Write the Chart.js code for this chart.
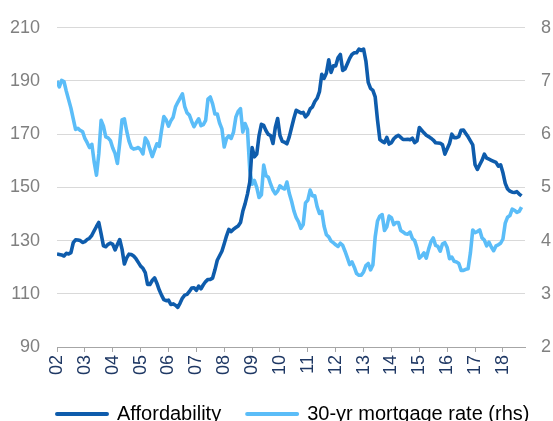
<!DOCTYPE html>
<html>
<head>
<meta charset="utf-8">
<script src="https://cdn.jsdelivr.net/npm/chart.js@4/dist/chart.umd.min.js"></script>
<style>
  html, body { margin: 0; padding: 0; overflow: hidden; background: #fff; }
  #wrap { position: relative; width: 553px; height: 421px; }
</style>
</head>
<body>
<div id="wrap"><canvas id="c"></canvas></div>
<script>
// Year tick labels (one tick every 12 months, starting Jan 2002)
const yearLabels = ['02','03','04','05','06','07','08','09','10','11','12','13','14','15','16','17','18'];

// Monthly Affordability index, Jan 2002 - Sep 2018 (left axis)
const affordability = [
  125.0,124.8,124.6,124.2,125.2,125.0,125.5,129.2,130.3,130.2,130.0,129.3,
  129.6,130.4,130.9,132.0,133.7,135.3,136.8,132.5,128.0,127.7,128.6,129.1,
  128.6,126.5,128.5,130.4,126.8,121.2,123.5,124.9,124.8,124.2,123.2,121.8,
  120.4,119.6,118.0,113.5,113.5,115.0,116.0,114.0,111.5,109.5,107.8,107.4,
  107.6,106.0,106.2,105.7,104.9,106.5,108.4,109.5,109.8,110.9,112.2,112.3,
  111.3,112.9,111.9,113.4,114.6,115.4,115.4,115.9,119.0,122.6,124.3,126.0,
  128.8,131.8,134.2,133.4,134.3,134.9,135.5,136.8,141.0,143.9,147.5,152.0,
  165.0,161.5,162.5,169.5,173.7,173.3,171.3,169.9,169.5,166.5,172.5,175.9,
  169.5,167.3,167.0,166.4,169.0,172.5,176.0,179.0,178.5,178.0,178.2,176.5,
  177.5,179.5,180.3,182.3,183.5,186.0,192.5,191.0,193.0,198.0,193.2,195.7,
  195.7,198.7,200.0,194.0,194.5,196.5,198.5,200.0,200.6,200.6,202.0,201.5,
  202.0,197.5,189.5,187.2,186.5,184.0,175.3,168.0,167.3,166.8,168.8,166.3,
  166.8,168.3,169.1,169.6,168.8,168.0,168.0,168.1,167.9,168.5,166.8,167.5,
  172.5,171.5,170.5,169.6,169.1,168.5,167.8,166.8,166.7,166.6,166.0,162.5,
  164.5,166.5,170.0,168.7,168.7,169.1,171.5,171.6,170.3,169.0,167.5,166.0,
  158.5,156.8,158.5,160.2,162.5,161.0,160.6,160.2,159.8,159.4,158.0,158.5,
  155.5,151.5,149.4,148.6,148.2,148.1,148.4,147.5,146.8
];

// Monthly 30-yr mortgage rate (%), Jan 2002 - Sep 2018 (right axis)
const mortgageRate = [
  7.00,6.89,7.01,6.99,6.81,6.65,6.49,6.29,6.09,6.11,6.07,6.05,
  5.92,5.84,5.75,5.81,5.48,5.23,5.63,6.26,6.15,5.95,5.93,5.88,
  5.74,5.64,5.45,5.83,6.27,6.29,6.06,5.87,5.75,5.72,5.73,5.75,
  5.71,5.63,5.93,5.86,5.72,5.58,5.70,5.82,5.77,6.07,6.33,6.27,
  6.15,6.25,6.32,6.51,6.60,6.68,6.76,6.52,6.40,6.36,6.24,6.14,
  6.22,6.29,6.16,6.18,6.26,6.66,6.70,6.57,6.38,6.38,6.21,6.10,
  5.76,5.92,5.97,5.92,6.04,6.32,6.43,6.48,6.04,6.20,6.09,5.33,
  5.06,5.13,5.00,4.81,4.86,5.42,5.22,5.19,5.06,4.95,4.88,4.93,
  5.03,4.99,4.97,5.10,4.89,4.74,4.56,4.43,4.35,4.23,4.30,4.71,
  4.76,4.95,4.84,4.84,4.64,4.51,4.55,4.27,4.11,4.07,3.99,3.96,
  3.92,3.89,3.95,3.91,3.80,3.68,3.55,3.60,3.50,3.38,3.35,3.35,
  3.41,3.53,3.57,3.45,3.54,4.07,4.37,4.46,4.49,4.19,4.26,4.46,
  4.43,4.30,4.34,4.34,4.19,4.16,4.13,4.12,4.16,4.04,4.00,3.86,
  3.67,3.71,3.77,3.67,3.84,3.98,4.05,3.91,3.89,3.80,3.94,3.96,
  3.87,3.66,3.69,3.61,3.60,3.57,3.44,3.44,3.46,3.47,3.77,4.20,
  4.15,4.17,4.20,4.05,4.01,3.90,3.97,3.88,3.81,3.90,3.92,3.95,
  4.03,4.33,4.44,4.47,4.59,4.57,4.53,4.55,4.63
];

const seriesNames = ['Affordability', '30-yr mortgage rate (rhs)'];

const DARK = '#0E5CAC';
const LIGHT = '#5BBDF8';
const FONT = "'Liberation Sans', Arial, sans-serif";
const LEG_PAD = 26;       // gap between legend items
const LEG_X = 57;         // x of first legend line
const LEG_TEXT_MID = 414; // vertical middle of legend text

// place the legend row where the reference has it
const legendPlacer = {
  id: 'legendPlacer',
  afterLayout(chart) {
    const lg = chart.legend;
    if (!lg) return;
    const dx = LEG_X - (lg.left + LEG_PAD);
    lg.left += dx;
    const fs = lg.options.labels.font.size;
    lg.top = LEG_TEXT_MID - fs / 2 - LEG_PAD;
    lg.bottom = chart.height;
    lg.height = lg.bottom - lg.top;
    lg.right = chart.width + 60;
    lg.width = lg.right - lg.left;
  }
};

const toXY = arr => arr.map((v, i) => ({ x: i, y: v }));

new Chart(document.getElementById('c'), {
  type: 'line',
  data: {
    datasets: [
      {
        label: seriesNames[0],
        data: toXY(affordability),
        yAxisID: 'yL',
        borderColor: DARK,
        backgroundColor: DARK,
        borderWidth: 3.6,
        pointRadius: 0,
        tension: 0,
        borderJoinStyle: 'round'
      },
      {
        label: seriesNames[1],
        data: toXY(mortgageRate),
        yAxisID: 'yR',
        borderColor: LIGHT,
        backgroundColor: LIGHT,
        borderWidth: 3.6,
        pointRadius: 0,
        tension: 0,
        borderJoinStyle: 'round'
      }
    ]
  },
  plugins: [legendPlacer],
  options: {
    responsive: true,
    maintainAspectRatio: false,
    animation: false,
    layout: { padding: { left: 0, right: 0, top: 23, bottom: 0 } },
    plugins: {
      tooltip: { enabled: false },
      legend: {
        position: 'bottom',
        align: 'start',
        maxHeight: 34,
        labels: {
          boxWidth: 50,
          boxHeight: 0,
          padding: LEG_PAD,
          color: '#000000',
          font: { size: 20, family: FONT },
          generateLabels: chart =>
            Chart.defaults.plugins.legend.labels.generateLabels(chart).map(l => ({ ...l, lineWidth: 4 }))
        }
      }
    },
    scales: {
      x: {
        type: 'linear',
        min: 0,
        max: 201.5,
        afterFit: s => { s.height = 40; },
        afterBuildTicks: s => { s.ticks = yearLabels.map((_, i) => ({ value: i * 12 })); },
        ticks: {
          autoSkip: false,
          minRotation: 90,
          maxRotation: 90,
          padding: 3,
          color: '#1F3864',
          font: { size: 18, family: FONT },
          callback: v => yearLabels[Math.round(v / 12)]
        },
        grid: { drawOnChartArea: false, drawTicks: true, tickLength: 5, color: '#A6A6A6' },
        border: { display: true, color: '#A6A6A6', width: 1 }
      },
      yL: {
        position: 'left',
        min: 90,
        max: 210,
        afterFit: s => { s.width = 57; },
        ticks: { stepSize: 20, padding: 17, color: '#808080', font: { size: 18, family: FONT } },
        grid: { color: '#D9D9D9', drawTicks: false },
        border: { display: false }
      },
      yR: {
        position: 'right',
        min: 2,
        max: 8,
        afterFit: s => { s.width = 28; },
        ticks: { stepSize: 1, padding: 16, color: '#808080', font: { size: 18, family: FONT } },
        grid: { drawOnChartArea: false, drawTicks: false },
        border: { display: false }
      }
    }
  }
});
</script>
</body>
</html>
